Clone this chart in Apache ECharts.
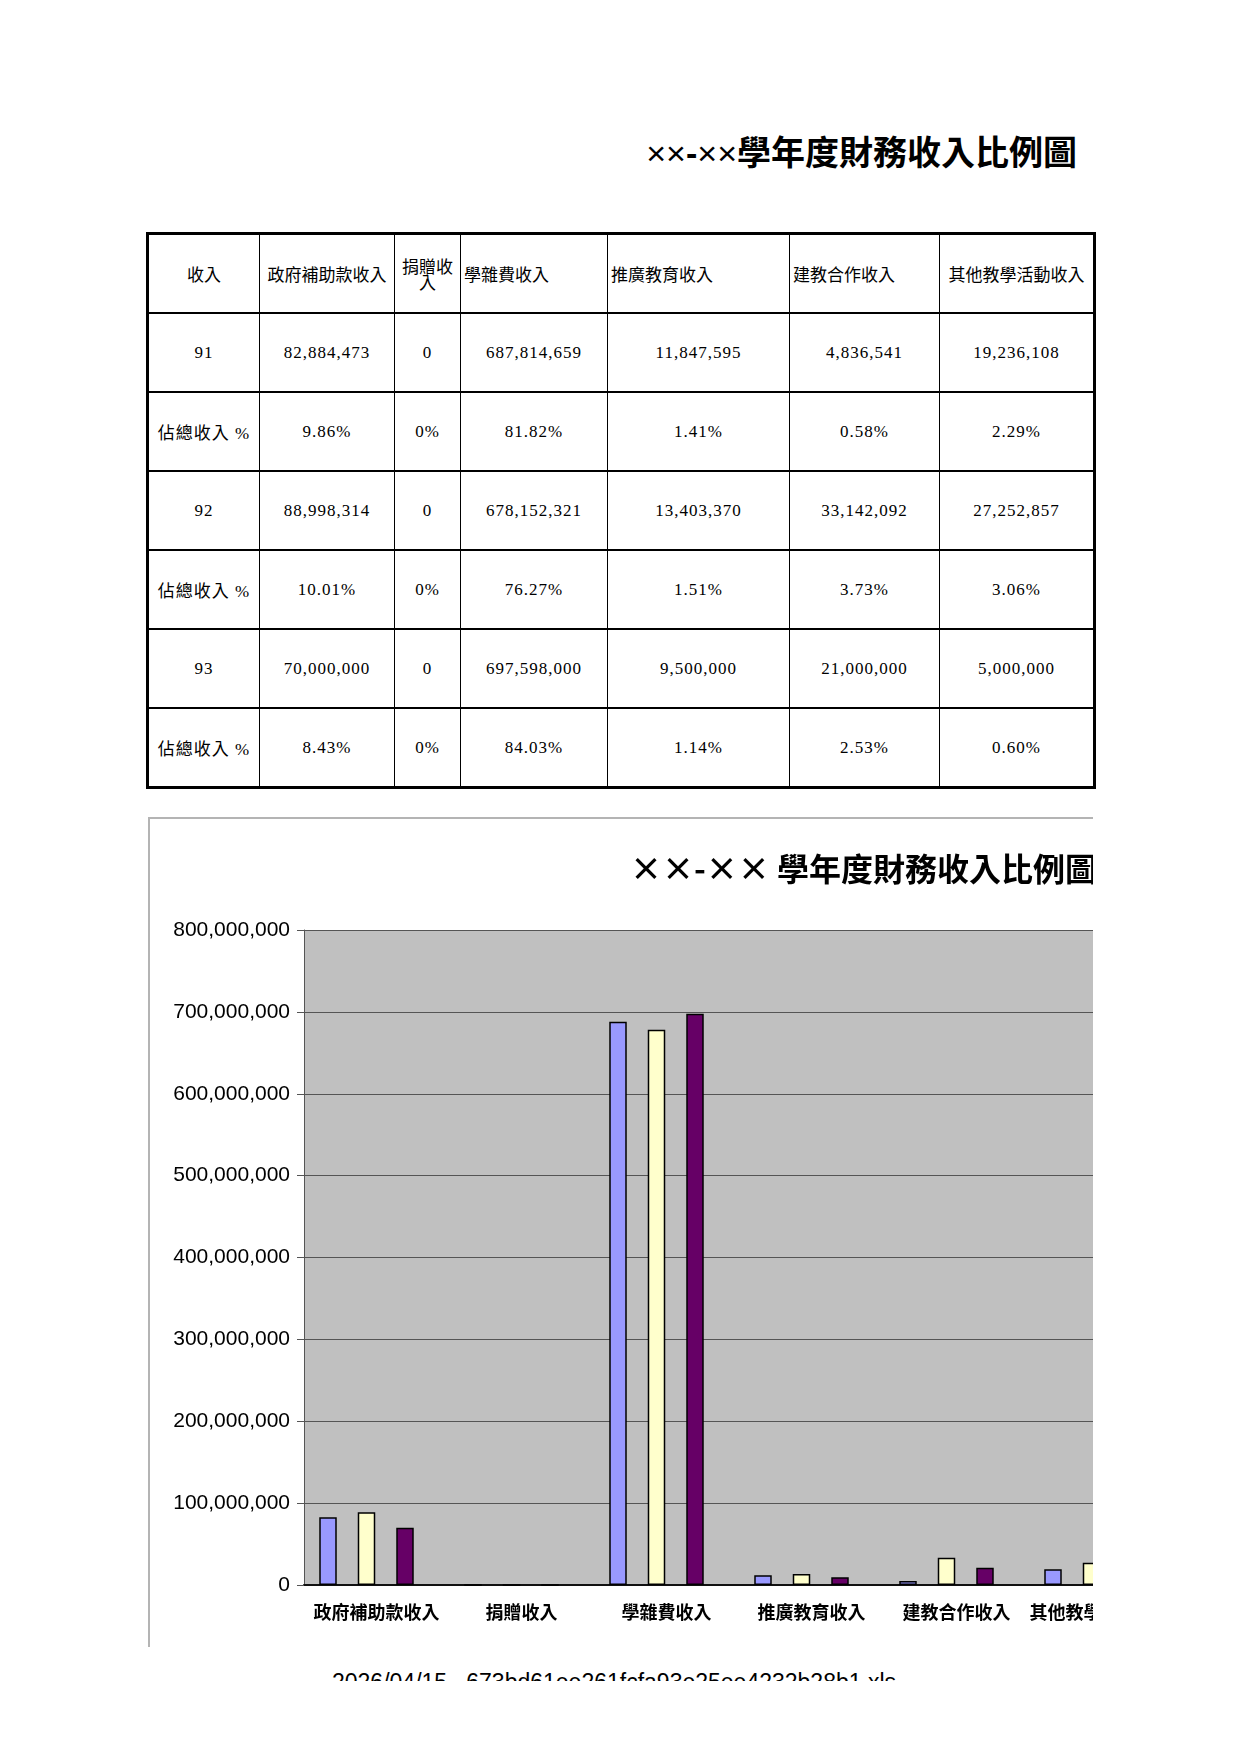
<!DOCTYPE html>
<html>
<head>
<meta charset="utf-8">
<script src="https://cdn.jsdelivr.net/npm/echarts@6/dist/echarts.min.js"></script>
<style>
body { margin: 0; background: #fff; width: 1240px; height: 1754px; position: relative; overflow: hidden; }
#title { position: absolute; right: 163px; top: 132px; font: bold 34px "Liberation Sans", "Noto Sans CJK TC"; line-height: 42px; white-space: nowrap; }
#title span { font-weight: normal; }
#tbl { position: absolute; left: 146px; top: 232px; width: 947px; border-collapse: collapse; table-layout: fixed; border: 3px solid #000; }
#tbl td { border-left: 1px solid #000; border-right: 1px solid #000; border-top: 2px solid #000; border-bottom: 2px solid #000;
  height: 77px; padding: 0 3px; text-align: center; vertical-align: middle;
  font: 17px "Liberation Serif", "Noto Sans CJK TC"; letter-spacing: 1px; color: #000; }
#tbl tr.head td { font: 17px "Noto Sans CJK TC"; letter-spacing: 0; line-height: 16px; }
#box { position: absolute; left: 148px; top: 817px; width: 943px; height: 828px; overflow: hidden; border-left: 2px solid #b4b4b4; border-top: 2px solid #b4b4b4; }
#chart { position: absolute; left: 0; top: 0; width: 1060px; height: 880px; }
#foot { position: absolute; left: 300px; top: 1655px; width: 700px; height: 26px; overflow: hidden; }
#foot div { position: absolute; left: 32px; top: 16px; font: 23px "Liberation Sans"; line-height: 23px; white-space: nowrap; color: #000; }
</style>
</head>
<body>
<div id="title"><span>××</span>-<span>××</span>學年度財務收入比例圖</div>
<table id="tbl"></table>
<div id="box"><div id="chart"></div></div>
<div id="foot"><div>2026/04/15 , 673bd61ee261fcfa93e25ee4232b28b1.xls</div></div>
<script>
var categories = ['政府補助款收入', '捐贈收入', '學雜費收入', '推廣教育收入', '建教合作收入', '其他教學活動收入'];
var years = ['91', '92', '93'];
var income91 = [82884473, 0, 687814659, 11847595, 4836541, 19236108];
var income92 = [88998314, 0, 678152321, 13403370, 33142092, 27252857];
var income93 = [70000000, 0, 697598000, 9500000, 21000000, 5000000];
var share91 = ['9.86%', '0%', '81.82%', '1.41%', '0.58%', '2.29%'];
var share92 = ['10.01%', '0%', '76.27%', '1.51%', '3.73%', '3.06%'];
var share93 = ['8.43%', '0%', '84.03%', '1.14%', '2.53%', '0.60%'];
var incomes = [income91, income92, income93];
var shares = [share91, share92, share93];
var colors = ['#9999ff', '#ffffcc', '#660066'];

// 表格
var colW = [112, 135, 66, 147, 182, 150, 155];
var headAlign = ['center', 'center', 'center', 'left', 'left', 'left', 'center'];
var tbl = document.getElementById('tbl');
var cg = document.createElement('colgroup');
colW.forEach(function (w) {
    var c = document.createElement('col');
    c.style.width = w + 'px';
    cg.appendChild(c);
});
tbl.appendChild(cg);

function addRow(cells, cls, aligns) {
    var tr = document.createElement('tr');
    if (cls) tr.className = cls;
    cells.forEach(function (t, i) {
        var td = document.createElement('td');
        td.textContent = t;
        if (aligns) td.style.textAlign = aligns[i];
        tr.appendChild(td);
    });
    tbl.appendChild(tr);
}
addRow(['收入'].concat(categories), 'head', headAlign);
years.forEach(function (y, k) {
    addRow([y].concat(incomes[k].map(function (v) { return v.toLocaleString('en-US'); })));
    addRow(['佔總收入 %'].concat(shares[k]));
});

// 圖
var myChart = echarts.init(document.getElementById('chart'));
myChart.setOption({
    animation: false,
    title: {
        text: '××-×× 學年度財務收入比例圖',
        left: 475,
        top: 29,
        textStyle: { fontSize: 32, fontWeight: 'bold', fontFamily: 'Noto Sans CJK TC', color: '#000', lineHeight: 32 }
    },
    grid: [
        { left: 154, top: 111, width: 870, height: 655, show: true, backgroundColor: '#c0c0c0', borderWidth: 0 },
        // 柱子的 grid, 往左偏一點
        { left: 144, top: 111, width: 870, height: 655 }
    ],
    xAxis: [
        {
            gridIndex: 0,
            type: 'category',
            data: categories,
            axisLine: { lineStyle: { color: '#111', width: 2 } },
            axisTick: { length: 8, lineStyle: { color: '#555' } },
            axisLabel: { interval: 0, margin: 18, fontSize: 18, fontWeight: 'bold', fontFamily: 'Noto Sans CJK TC', color: '#000' }
        },
        { gridIndex: 1, type: 'category', data: categories, show: false }
    ],
    yAxis: [
        {
            gridIndex: 0,
            type: 'value',
            min: 0,
            max: 800000000,
            interval: 100000000,
            axisLine: { show: true, lineStyle: { color: '#555' } },
            axisTick: { show: true, length: 7, lineStyle: { color: '#555' } },
            splitLine: { lineStyle: { color: '#555' } },
            axisLabel: {
                margin: 14, fontSize: 21, fontFamily: 'Liberation Sans', color: '#000',
                formatter: function (v) { return v.toLocaleString('en-US'); }
            }
        },
        { gridIndex: 1, type: 'value', min: 0, max: 800000000, show: false, splitLine: { show: false } }
    ],
    series: years.map(function (y, k) {
        return {
            name: y,
            type: 'bar',
            xAxisIndex: 1,
            yAxisIndex: 1,
            data: incomes[k],
            barWidth: 17.5,
            barGap: '120%',
            itemStyle: { color: colors[k], borderColor: '#000', borderWidth: 1.5 }
        };
    })
});
</script>
</body>
</html>
